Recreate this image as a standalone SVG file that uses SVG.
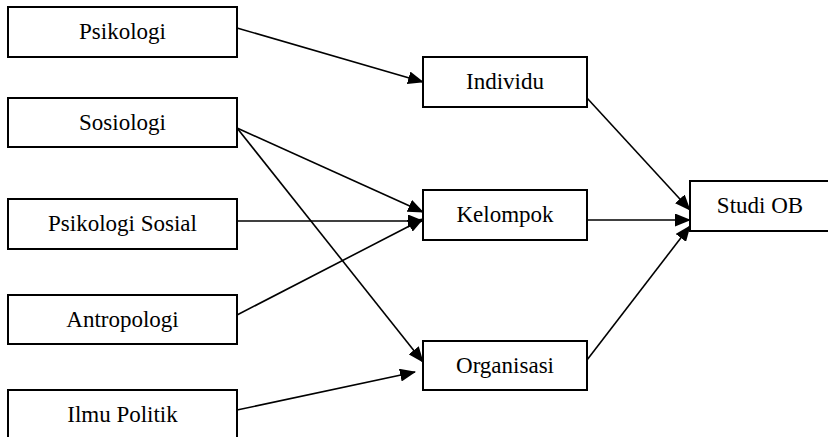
<svg xmlns="http://www.w3.org/2000/svg" width="828" height="437" viewBox="0 0 828 437">
<defs>
<marker id="ah" markerWidth="16" markerHeight="13" refX="15" refY="6.5" orient="auto" markerUnits="userSpaceOnUse">
<path d="M0,0 L16,6.5 L0,13 Z" fill="#000"/>
</marker>
<style>
.box rect{fill:#fff;stroke:#000;stroke-width:2}
.box text{font-family:"Liberation Serif","Times New Roman",serif;font-size:23px;text-anchor:middle;fill:#000}
.conn line{stroke:#000;stroke-width:1.6;marker-end:url(#ah)}
</style>
</defs>
<rect width="828" height="437" fill="#fff"/>
<g class="conn">
<line x1="237" y1="28" x2="423" y2="82"/>
<line x1="237" y1="128" x2="423" y2="212"/>
<line x1="237" y1="128" x2="423" y2="362"/>
<line x1="237" y1="221" x2="423" y2="221"/>
<line x1="237" y1="315" x2="423" y2="219"/>
<line x1="237" y1="410" x2="415" y2="372"/>
<line x1="587" y1="98" x2="690" y2="210"/>
<line x1="587" y1="220" x2="690" y2="220"/>
<line x1="587" y1="360" x2="690" y2="226"/>
</g>
<g id="psikologi" class="box"><rect x="8" y="7" width="229" height="50"/><text x="122.5" y="39">Psikologi</text></g>
<g id="sosiologi" class="box"><rect x="8" y="98" width="229" height="49"/><text x="122.5" y="130">Sosiologi</text></g>
<g id="psikologi-sosial" class="box"><rect x="8" y="199" width="229" height="50"/><text x="122.5" y="231">Psikologi Sosial</text></g>
<g id="antropologi" class="box"><rect x="8" y="295" width="229" height="49"/><text x="122.5" y="327">Antropologi</text></g>
<g id="ilmu-politik" class="box"><rect x="8" y="390" width="229" height="60"/><text x="122.5" y="422">Ilmu Politik</text></g>
<g id="individu" class="box"><rect x="423" y="57" width="164" height="50"/><text x="505" y="89">Individu</text></g>
<g id="kelompok" class="box"><rect x="423" y="190" width="164" height="50"/><text x="505" y="222">Kelompok</text></g>
<g id="organisasi" class="box"><rect x="423" y="341" width="164" height="49"/><text x="505" y="373">Organisasi</text></g>
<g id="studi-ob" class="box"><rect x="690" y="181" width="140" height="50"/><text x="760" y="213">Studi OB</text></g>
</svg>
